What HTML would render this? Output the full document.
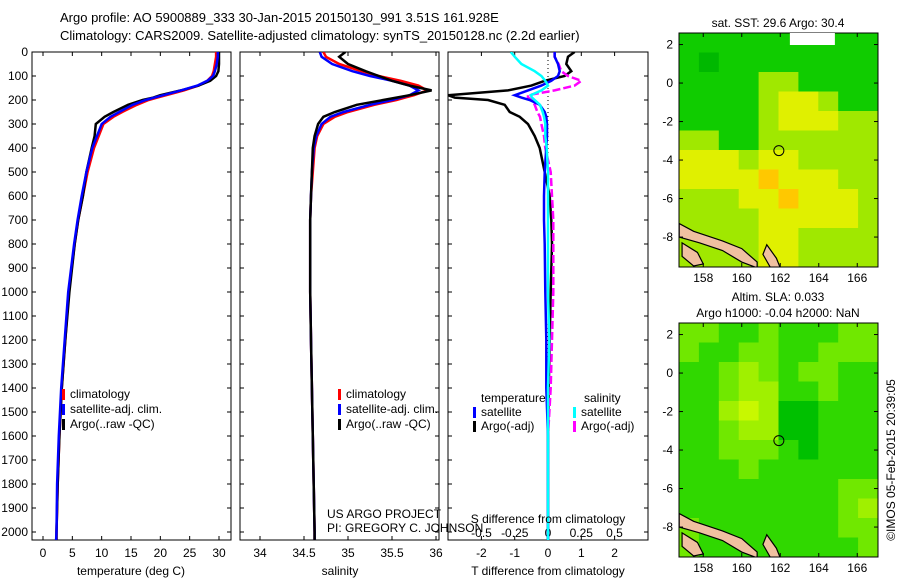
<!DOCTYPE html>
<html><head><meta charset="utf-8">
<style>
body{margin:0;background:#fff;}
svg{display:block;font-family:"Liberation Sans",sans-serif;}
</style></head>
<body>
<svg id="fig" width="900" height="580" viewBox="0 0 900 580" xmlns="http://www.w3.org/2000/svg">
<rect width="900" height="580" fill="#fff"/>
<text x="60" y="22" font-size="13">Argo profile: AO 5900889_333 30-Jan-2015 20150130_991 3.51S 161.928E</text>
<text x="60" y="40" font-size="13">Climatology: CARS2009. Satellite-adjusted climatology: synTS_20150128.nc (2.2d earlier)</text>
<g id="g"></g>
</svg>
<script>
// ---- data ----
const depths = [0,20,50,80,100,120,140,160,180,190,200,220,250,270,300,350,400,500,600,700,800,1000,1200,1400,1600,1800,2000,2050];
const tempClim = [29.5,29.5,29.3,29.1,28.8,28,26.5,24,21,19.5,18,16,13.5,12,10.3,9.5,8.7,7.6,6.8,6,5.4,4.4,3.8,3.2,2.8,2.5,2.3,2.3];
const tempSat  = [29.8,29.8,29.6,29.3,29,28,26.3,23.5,20.5,19,17.5,15.3,13,11.5,10,9.2,8.4,7.4,6.6,5.9,5.3,4.3,3.7,3.1,2.7,2.4,2.3,2.2];
const tempArgo = [30,30,30,29.9,29.5,28.5,26.5,23.5,20,18.8,17,14.5,12,10.5,9,8.8,8.3,7.4,6.8,6,5.4,4.5,3.8,3.2,2.8,2.5,2.3,2.3];
const salClim = [34.72,34.75,34.9,35.15,35.35,35.6,35.8,35.9,35.75,35.65,35.55,35.3,35.0,34.85,34.72,34.65,34.62,34.6,34.58,34.57,34.57,34.57,34.58,34.59,34.6,34.61,34.62,34.62];
const salSat  = [34.68,34.7,34.82,35.05,35.25,35.5,35.7,35.8,35.7,35.6,35.5,35.25,34.95,34.8,34.7,34.64,34.61,34.59,34.58,34.57,34.57,34.57,34.58,34.59,34.6,34.61,34.62,34.62];
const salArgo = [34.97,34.9,35.0,35.2,35.35,35.5,35.7,35.95,35.7,35.55,35.4,35.1,34.85,34.72,34.66,34.62,34.6,34.59,34.58,34.57,34.57,34.57,34.58,34.59,34.6,34.61,34.62,34.62];
const dTsat  = [0.2,0.2,0.3,0.35,0.3,0.1,-0.2,-0.6,-1.0,-0.8,-0.55,-0.25,-0.1,-0.05,-0.03,-0.03,-0.05,-0.1,-0.12,-0.12,-0.1,-0.08,-0.05,-0.05,0,0,0,0];
const dTargo = [0.8,0.6,0.55,0.7,0.5,-0.1,-0.5,-1.2,-3,-2.8,-1.8,-1.3,-1.15,-0.85,-0.6,-0.4,-0.25,-0.1,0.05,0.1,0.12,0.08,0.05,0.02,0,0,0,0];
const dSsat  = [-0.28,-0.25,-0.2,-0.1,-0.05,-0.02,0,-0.05,-0.13,-0.12,-0.1,-0.06,-0.04,-0.03,-0.02,-0.02,-0.01,0,0,0,0,0,0.01,0,0,0,0,0];
const dSargo = [0.05,0.05,0.08,0.1,0.15,0.25,0.2,0.05,-0.15,-0.15,-0.12,-0.1,-0.08,-0.06,-0.05,-0.03,-0.02,0.02,0.03,0.04,0.04,0.04,0.03,0.02,0,0,0,0];
const depthTicks = [0,100,200,300,400,500,600,700,800,900,1000,1100,1200,1300,1400,1500,1600,1700,1800,1900,2000];
const tempTicks = [0,5,10,15,20,25,30];
const salTicks = [34,34.5,35,35.5,36];
const dTTicks = [-2,-1,0,1,2];
const dSTicks = [-0.5,-0.25,0,0.25,0.5];
const lonTicks = [158,160,162,164,166];
const latTicks = [2,0,-2,-4,-6,-8];
// SST map: 12 rows (lat 2.6 -> -9.55), 10 cols (lon 156.74 -> 167.1)
const sstGrid = [
[1,1,1,1,1,1,1,1,1,1],
[1,0,1,1,1,1,1,1,1,1],
[1,1,1,1,2,2,1,1,1,1],
[1,1,1,1,2,3,3,2,1,1],
[1,1,1,1,2,3,3,3,2,2],
[2,2,1,1,2,2,2,2,2,2],
[3,3,3,2,3,3,2,2,2,2],
[3,3,3,3,4,3,3,3,2,2],
[2,2,2,3,3,4,3,3,3,2],
[2,2,2,2,3,3,3,3,3,2],
[2,2,2,2,3,3,2,2,2,2],
[2,2,2,2,3,3,2,2,2,2]];
const slaGrid = [
[2,2,1,1,2,1,1,1,2,2],
[2,1,1,2,2,1,1,2,2,2],
[1,1,2,3,2,1,2,2,1,1],
[1,1,2,3,3,1,1,2,1,1],
[1,1,3,4,3,0,0,1,1,1],
[1,1,2,3,3,0,0,1,1,1],
[1,1,2,2,2,1,0,1,1,1],
[1,1,1,2,1,1,1,1,1,1],
[1,1,1,1,1,1,1,1,2,2],
[1,1,1,1,1,1,1,1,2,3],
[2,1,1,1,1,1,1,1,2,2],
[2,1,1,1,1,1,1,1,1,2]];
const sstColors = ['#00b800','#10cc00','#a0e800','#e0f000','#ffc800'];
const slaColors = ['#00c000','#30d800','#70e800','#a0f000','#c8f800'];
const argoLon = 161.928, argoLat = -3.51;

// ---- drawing ----
const NS='http://www.w3.org/2000/svg';
const G=document.getElementById('g');
function mk(tag,attrs,parent){const e=document.createElementNS(NS,tag);for(const k in attrs)e.setAttribute(k,attrs[k]);(parent||G).appendChild(e);return e;}
function txt(x,y,s,anchor,size,parent){const t=mk('text',{x:x,y:y,'font-size':size||12,'text-anchor':anchor||'start'},parent);t.textContent=s;return t;}
const yD=d=>52+d*0.24;
const PY0=52,PY1=540;
function lin(d0,d1,r0,r1){return v=>r0+(v-d0)*(r1-r0)/(d1-d0);}
const xT=lin(0,30,43,219), xS=lin(34,36,260,436), xdT=lin(0,1,548,581.3), xdS=lin(0,1,548,681);

function panel(name,x0,x1){
  const r=mk('rect',{x:x0,y:PY0,width:x1-x0,height:PY1-PY0,fill:'none',stroke:'#000','stroke-width':1});
  
  
  depthTicks.forEach(d=>{mk('line',{x1:x0,x2:x0+4,y1:yD(d),y2:yD(d),stroke:'#000'});mk('line',{x1:x1-4,x2:x1,y1:yD(d),y2:yD(d),stroke:'#000'});});
}
function series(name,xs,vals,color,w,dash,clip){
  const pts=vals.map((v,i)=>xs(v).toFixed(1)+','+yD(depths[i]).toFixed(1)).join(' ');
  const p=mk('polyline',{points:pts,fill:'none',stroke:color,'stroke-width':w,'stroke-dasharray':dash||'none','clip-path':clip});
  
  
}
const defs=mk('defs',{});
[['c1',32,231],['c2',240,439],['c3',448,648]].forEach(c=>{const cp=mk('clipPath',{id:c[0]},defs);mk('rect',{x:c[1],y:PY0,width:c[2]-c[1],height:PY1-PY0},cp);});

// panel 1
panel('temperature-panel',32,231);
depthTicks.forEach(d=>{const t=txt(28,yD(d)+4,String(d),'end',12);});
tempTicks.forEach(v=>{const x=xT(v);mk('line',{x1:x,x2:x,y1:PY1,y2:PY1-4,stroke:'#000'});mk('line',{x1:x,x2:x,y1:PY0,y2:PY0+4,stroke:'#000'});const t=txt(x,557,String(v),'middle');});
series('temp-climatology',xT,tempClim,'#ff0000',2.5,null,'url(#c1)');
series('temp-argo',xT,tempArgo,'#000',2.5,null,'url(#c1)');
series('temp-satellite',xT,tempSat,'#0000ff',2.5,null,'url(#c1)');
let t=txt(131,575,'temperature (deg C)','middle');

// panel 2
panel('salinity-panel',240,439);
salTicks.forEach(v=>{const x=xS(v);mk('line',{x1:x,x2:x,y1:PY1,y2:PY1-4,stroke:'#000'});mk('line',{x1:x,x2:x,y1:PY0,y2:PY0+4,stroke:'#000'});const t=txt(x,557,String(v),'middle');});
series('sal-climatology',xS,salClim,'#ff0000',2.5,null,'url(#c2)');
series('sal-satellite',xS,salSat,'#0000ff',2.5,null,'url(#c2)');
series('sal-argo',xS,salArgo,'#000',2.5,null,'url(#c2)');
t=txt(340,575,'salinity','middle');
t=txt(327,518,'US ARGO PROJECT');
t=txt(327,532,'PI: GREGORY C. JOHNSON');

// legends 1 & 2
[[62,70],[338,346]].forEach((L,li)=>{
  [['#ff0000','climatology'],['#0000ff','satellite-adj. clim.'],['#000','Argo(..raw -QC)']].forEach((e,i)=>{
    const y=398+i*15;
    mk('rect',{x:L[0],y:y-9,width:3,height:11,fill:e[0]});
    const tt=txt(L[1],y,e[1]);
    
    
  });
});

// panel 3
panel('difference-panel',448,648);
for(let y=PY0;y<PY1;y+=4)mk('rect',{x:547.5,y:y,width:1,height:1,fill:'#000'});
dTTicks.forEach(v=>{const x=xdT(v);mk('line',{x1:x,x2:x,y1:PY1,y2:PY1-4,stroke:'#000'});mk('line',{x1:x,x2:x,y1:PY0,y2:PY0+4,stroke:'#000'});const t=txt(x,557,String(v),'middle');});
dSTicks.forEach(v=>{const t=txt(xdS(v),537,String(v),'middle');});
series('tdiff-argo',xdT,dTargo,'#000',2.5,null,'url(#c3)');
series('sdiff-argo',xdS,dSargo,'#ff00ff',2.5,'8 3','url(#c3)');
series('tdiff-satellite',xdT,dTsat,'#0000ff',2.5,null,'url(#c3)');
series('sdiff-satellite',xdS,dSsat,'#00ffff',2.5,null,'url(#c3)');
t=txt(548,523,'S difference from climatology','middle');
t=txt(548,575,'T difference from climatology','middle');
t=txt(481,402,'temperature');
t=txt(584,402,'salinity');
[[473,481,416,'#0000ff','satellite'],[473,481,430,'#000','Argo(-adj)'],[573,581,416,'#00ffff','satellite'],[573,581,430,'#ff00ff','Argo(-adj)']].forEach(e=>{
  mk('rect',{x:e[0],y:e[2]-9,width:3,height:11,fill:e[3]});
  const tt=txt(e[1],e[2],e[4]);
  
  
});

// maps
const MX0=679,MX1=878,LON0=156.74,PXD=19.25;
const xLon=lon=>MX0+(lon-LON0)*PXD;
const land=[[[156.75,-7.3],[157.5,-7.7],[159,-8.2],[160,-8.6],[160.8,-9.3],[160.8,-9.6],[160,-9.3],[159,-8.7],[157.8,-8.3],[156.75,-8]],
            [[156.9,-8.3],[157.7,-8.8],[158,-9.4],[157.5,-9.5],[156.9,-9]],
            [[161.3,-8.4],[161.8,-9.1],[162,-9.6],[161.5,-9.6],[161.1,-8.9]]];
function map(name,y0,grid,colors,titleLines){
  const LAT0=2.6;
  const yLat=lat=>y0+(LAT0-lat)*19.25;
  const y1=y0+234;
  const cp=mk('clipPath',{id:'cm'+y0},defs);mk('rect',{x:MX0,y:y0,width:MX1-MX0,height:y1-y0},cp);
  const g=mk('g',{'clip-path':'url(#cm'+y0+')'});
  const ch=(y1-y0)/grid.length, cw=(MX1-MX0)/grid[0].length;
  grid.forEach((row,r)=>row.forEach((v,c)=>{
    const cell=mk('rect',{x:MX0+c*cw,y:y0+r*ch,width:cw+0.5,height:ch+0.5,fill:colors[v]},g);
    
    
  }));
  land.forEach(poly=>{const p=mk('polygon',{points:poly.map(q=>xLon(q[0])+','+yLat(q[1])).join(' '),fill:'#f0c0a0',stroke:'#000','stroke-width':1.2},g);});
  const c=mk('circle',{cx:xLon(argoLon),cy:yLat(argoLat),r:5,fill:'none',stroke:'#000'});
  
  
  const fr=mk('rect',{x:MX0,y:y0,width:MX1-MX0,height:y1-y0,fill:'none',stroke:'#000'});
  
  
  lonTicks.forEach(v=>{const x=xLon(v);mk('line',{x1:x,x2:x,y1:y1,y2:y1-4,stroke:'#000'});mk('line',{x1:x,x2:x,y1:y0,y2:y0+4,stroke:'#000'});const t=txt(x,y1+15,String(v),'middle');});
  latTicks.forEach(v=>{const y=yLat(v);mk('line',{x1:MX0,x2:MX0+4,y1:y,y2:y,stroke:'#000'});mk('line',{x1:MX1-4,x2:MX1,y1:y,y2:y,stroke:'#000'});const t=txt(673,y+4,String(v),'end');});
  titleLines.forEach((s,i)=>{const t=txt(778,y0-(titleLines.length-1-i)*16-6,s,'middle');});
}
map('sst-map',33,sstGrid,sstColors,['sat. SST: 29.6 Argo: 30.4']);
// white missing-data patch in SST map
mk('rect',{x:xLon(162.5),y:33,width:45,height:12,fill:'#fff'});
map('sla-map',323,slaGrid,slaColors,['Altim. SLA: 0.033','Argo h1000: -0.04 h2000: NaN']);
t=txt(0,0,'©IMOS 05-Feb-2015 20:39:05','middle');
t.setAttribute('transform','translate(895,460) rotate(-90)');


</script>
</body></html>
